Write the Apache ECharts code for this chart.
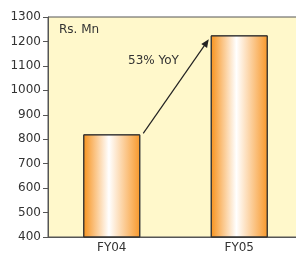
<!DOCTYPE html>
<html lang="en">
<head>
    <meta charset="UTF-8">
    <title>Rs. Mn</title>
    <script type="text/javascript" src="https://cdn.jsdelivr.net/npm/echarts@6/dist/echarts.min.js"></script>
    <style>
        html, body { margin: 0; padding: 0; background: #fff; overflow: hidden; }
        #frame { position: relative; width: 296px; height: 254px; overflow: hidden; }
        #container { position: absolute; left: 0; top: 0; width: 303px; height: 254px; }
    </style>
</head>
<body>
<div id="frame"><div id="container"></div></div>
<script>
    const years = ['FY04', 'FY05'];
    const revenue = [820, 1225];
    const yTicks = [400, 500, 600, 700, 800, 900, 1000, 1100, 1200, 1300];
    const unitText = 'Rs. Mn';
    const growthText = '53% YoY';

    const font = 'DejaVu Sans';
    const chart = echarts.init(document.getElementById('container'));

    const barFill = new echarts.graphic.LinearGradient(0, 0, 1, 0, [
        {offset: 0, color: '#f7921c'},
        {offset: 0.45, color: '#ffffff'},
        {offset: 1, color: '#f8982a'}
    ]);

    let option = {
        animation: false,
        grid: {
            left: 48, right: 0, top: 17, bottom: 14,
            show: true,
            backgroundColor: '#fff8cb',
            borderColor: '#555',
            borderWidth: 1
        },
        xAxis: {
            type: 'category',
            data: years,
            axisLine: {lineStyle: {color: '#555'}},
            axisTick: {show: false},
            axisLabel: {color: '#333', fontFamily: font, fontSize: 12, margin: 5}
        },
        yAxis: {
            type: 'value',
            min: yTicks[0],
            max: yTicks[yTicks.length - 1],
            interval: 100,
            axisLine: {show: true, lineStyle: {color: '#555'}},
            axisTick: {show: true, length: 5, lineStyle: {color: '#555'}},
            splitLine: {show: false},
            axisLabel: {
                color: '#333', fontFamily: font, fontSize: 12, margin: 7,
                formatter: v => String(v)
            }
        },
        series: [{
            type: 'bar',
            data: revenue,
            barWidth: 57,
            itemStyle: {color: barFill, borderColor: '#333', borderWidth: 1}
        }]
    };
    chart.setOption(option);

    // arrow from the FY04 bar top to the FY05 bar top, placed via the axes
    const half = 57 / 2;
    const p0 = chart.convertToPixel({seriesIndex: 0}, [0, revenue[0]]);
    const p1 = chart.convertToPixel({seriesIndex: 0}, [1, revenue[1]]);
    const x0 = p0[0] + half + 3, y0 = p0[1] - 1;
    const x1 = p1[0] - half - 2, y1 = p1[1] + 4;
    const ang = Math.atan2(y1 - y0, x1 - x0);
    const hl = 8, hw = 3.5;
    const bx = x1 - hl * Math.cos(ang), by = y1 - hl * Math.sin(ang);
    const nx = -Math.sin(ang) * hw, ny = Math.cos(ang) * hw;

    chart.setOption({
        graphic: [
            {
                type: 'line',
                shape: {x1: x0, y1: y0, x2: bx, y2: by},
                style: {stroke: '#222', lineWidth: 1.2}
            },
            {
                type: 'polygon',
                shape: {points: [[x1, y1], [bx + nx, by + ny], [bx - nx, by - ny]]},
                style: {fill: '#222'}
            },
            {
                type: 'text',
                left: 59, top: 24,
                style: {text: unitText, fill: '#333', font: '12px ' + font}
            },
            {
                type: 'text',
                left: 128, top: 55,
                style: {text: growthText, fill: '#333', font: '12px ' + font}
            }
        ]
    });

    window.onresize = chart.resize;
</script>
</body>
</html>
